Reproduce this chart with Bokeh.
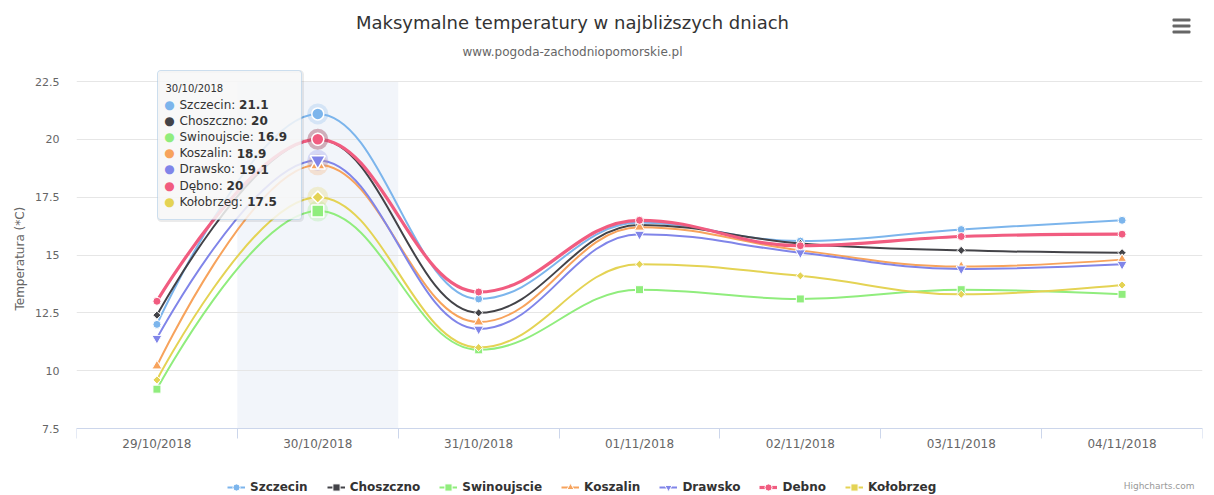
import math
from bokeh.plotting import figure
from bokeh.models import (Range1d, FixedTicker, NumeralTickFormatter, Label, Title,
                          BoxAnnotation, Legend, LegendItem, ColumnDataSource)
from bokeh.embed import file_html
from bokeh.resources import INLINE

# ---------------- data ----------------
dates = ["29/10/2018", "30/10/2018", "31/10/2018", "01/11/2018",
         "02/11/2018", "03/11/2018", "04/11/2018"]
legend_names = ["Szczecin", "Choszczno", "Swinoujscie", "Koszalin",
                "Drawsko", "Debno", "Kołobrzeg"]
tooltip_names = ["Szczecin", "Choszczno", "Swinoujscie", "Koszalin",
                 "Drawsko", "Dębno", "Kołobrzeg"]
szczecin = [12.0, 21.1, 13.1, 16.4, 15.6, 16.1, 16.5]
choszczno = [12.4, 20.0, 12.5, 16.3, 15.5, 15.2, 15.1]
swinoujscie = [9.2, 16.9, 10.9, 13.5, 13.1, 13.5, 13.3]
koszalin = [10.2, 18.9, 12.1, 16.2, 15.2, 14.5, 14.8]
drawsko = [11.4, 19.1, 11.8, 15.9, 15.1, 14.4, 14.6]
debno = [13.0, 20.0, 13.4, 16.5, 15.4, 15.8, 15.9]
kolobrzeg = [9.6, 17.5, 11.0, 14.6, 14.1, 13.3, 13.7]
series_values = [szczecin, choszczno, swinoujscie, koszalin, drawsko, debno, kolobrzeg]
y_ticks = [7.5, 10, 12.5, 15, 17.5, 20, 22.5]
title_text = "Maksymalne temperatury w najbliższych dniach"
subtitle_text = "www.pogoda-zachodniopomorskie.pl"
y_title = "Temperatura (*C)"
credits_text = "Highcharts.com"
hover_index = 1

# ---------------- style ----------------
colors = ["#7cb5ec", "#434348", "#90ed7d", "#f7a35c", "#8085e9", "#f15c80", "#e4d354"]
marker_kind = ["circle", "diamond", "square", "triangle", "inverted_triangle", "circle", "diamond"]
FONT = "DejaVu Sans"
W, H = 1214, 495
FL, FR = 76, 1202
AXIS_Y, GRID_TOP = 428, 81          # pixel rows of the x axis line and top gridline
PX = (AXIS_Y - GRID_TOP) / (y_ticks[-1] - y_ticks[0])   # pixels per degree
FB = H                               # the plotting frame runs to the bottom edge


def marker_spec(kind, hover=False):
    k = 1.5 if hover else 1.0
    if kind == "circle":
        return dict(marker="circle", size=8 * k, angle=0)
    if kind == "square":
        return dict(marker="square", size=8 * k, angle=0)
    if kind == "diamond":
        return dict(marker="square", size=5.7 * k, angle=math.pi / 4)
    if kind == "triangle":
        return dict(marker="triangle", size=10 * k, angle=0)
    return dict(marker="inverted_triangle", size=10 * k, angle=0)


def spline(xs, ys, smoothing=1.5):
    n = len(xs)
    lc = [None] * n
    rc = [None] * n
    d = smoothing + 1
    for i in range(1, n - 1):
        px, py = xs[i], ys[i]
        lx, ly = xs[i - 1], ys[i - 1]
        nx, ny = xs[i + 1], ys[i + 1]
        lcx = (smoothing * px + lx) / d
        lcy = (smoothing * py + ly) / d
        rcx = (smoothing * px + nx) / d
        rcy = (smoothing * py + ny) / d
        if rcx != lcx:
            corr = ((rcy - lcy) * (rcx - px)) / (rcx - lcx) + py - rcy
            lcy += corr
            rcy += corr
        if lcy > ly and lcy > py:
            lcy = max(ly, py)
            rcy = 2 * py - lcy
        elif lcy < ly and lcy < py:
            lcy = min(ly, py)
            rcy = 2 * py - lcy
        if rcy > ny and rcy > py:
            rcy = max(ny, py)
            lcy = 2 * py - rcy
        elif rcy < ny and rcy < py:
            rcy = min(ny, py)
            lcy = 2 * py - rcy
        lc[i] = (lcx, lcy)
        rc[i] = (rcx, rcy)
    out = dict(x0=[], y0=[], x1=[], y1=[], cx0=[], cy0=[], cx1=[], cy1=[])
    for i in range(1, n):
        s = (xs[i - 1], ys[i - 1])
        e = (xs[i], ys[i])
        c0 = rc[i - 1] or s
        c1 = lc[i] or e
        out["x0"].append(s[0]); out["y0"].append(s[1])
        out["x1"].append(e[0]); out["y1"].append(e[1])
        out["cx0"].append(c0[0]); out["cy0"].append(c0[1])
        out["cx1"].append(c1[0]); out["cy1"].append(c1[1])
    return out


p = figure(width=W, height=H, output_backend="svg", toolbar_location=None,
           x_axis_location="above",
           x_range=Range1d(-0.5, len(dates) - 0.5),
           y_range=Range1d(y_ticks[0] - (FB - AXIS_Y) / PX, y_ticks[-1] + GRID_TOP / PX),
           min_border_left=FL, min_border_right=W - FR,
           min_border_top=0, min_border_bottom=0)
p.outline_line_color = None
p.background_fill_color = "white"
p.border_fill_color = "white"

xs = list(range(len(dates)))

# x axis: drawn on the 7.5 line; labels pushed below the line
xa = p.xaxis[0]
xa.fixed_location = y_ticks[0]
xa.ticker = FixedTicker(ticks=xs, minor_ticks=[i - 0.5 for i in range(len(dates) + 1)])
xa.major_label_overrides = {i: d for i, d in enumerate(dates)}
xa.major_tick_line_color = None
xa.major_tick_out = 0
xa.major_tick_in = 0
xa.minor_tick_line_color = "#ccd6eb"
xa.minor_tick_in = 10
xa.minor_tick_out = 0
xa.axis_line_color = "#ccd6eb"
xa.major_label_text_font = FONT
xa.major_label_text_font_size = "12px"
xa.major_label_text_color = "#666666"
xa.major_label_standoff = -22

# y axis
ya = p.yaxis[0]
ya.ticker = FixedTicker(ticks=y_ticks)
ya.formatter = NumeralTickFormatter(format="0.[0]")
ya.major_tick_line_color = None
ya.major_tick_out = 0
ya.major_tick_in = 0
ya.minor_tick_line_color = None
ya.axis_line_color = None
ya.major_label_text_font = FONT
ya.major_label_text_font_size = "11px"
ya.major_label_text_color = "#666666"
ya.major_label_standoff = 17

p.add_layout(Title(text=y_title, align="left", offset=FB - 310, standoff=12,
                   text_font=FONT, text_font_size="12px", text_color="#666666",
                   text_font_style="normal"), "left")

p.xgrid.visible = False
p.ygrid.ticker = FixedTicker(ticks=y_ticks)
p.ygrid.grid_line_color = "#e6e6e6"

# hover band
p.quad(left=[hover_index - 0.5], right=[hover_index + 0.5],
       bottom=[y_ticks[0]], top=[y_ticks[-1]],
       fill_color="#ccd6eb", fill_alpha=0.25, line_color=None, level="underlay")

order = [0, 1, 2, 3, 4, 6, 5]
line_r = {}
mark_r = {}
for s in order:
    vals = series_values[s]
    src = ColumnDataSource(spline(xs, vals))
    lw = 3.2 if s == 5 else 2
    line_r[s] = p.bezier(x0="x0", y0="y0", x1="x1", y1="y1", cx0="cx0", cy0="cy0",
                         cx1="cx1", cy1="cy1", source=src, line_color=colors[s],
                         line_width=lw)
    mx = [x for x in xs if x != hover_index]
    my = [vals[x] for x in mx]
    mark_r[s] = p.scatter(x=mx, y=my, fill_color=colors[s], line_color="white",
                          line_width=1, **marker_spec(marker_kind[s]))

for s in order:
    vals = series_values[s]
    p.scatter(x=[hover_index], y=[vals[hover_index]], marker="circle", size=21,
              fill_color=colors[s], fill_alpha=0.25, line_color=None)
for s in order:
    vals = series_values[s]
    p.scatter(x=[hover_index], y=[vals[hover_index]], fill_color=colors[s],
              line_color="white", line_width=1.5, **marker_spec(marker_kind[s], True))

# legend at the bottom row
items = [LegendItem(label=name, renderers=[line_r[s], mark_r[s]])
         for s, name in enumerate(legend_names)]
legend = Legend(items=items, orientation="horizontal", location=(151, -1),
                padding=0, margin=0, spacing=19, glyph_width=18, glyph_height=18,
                label_height=18, label_standoff=5, border_line_alpha=0,
                background_fill_alpha=0, label_text_font=FONT,
                label_text_font_size="12px", label_text_font_style="bold",
                label_text_color="#333333")
p.add_layout(legend)


def sx(cx):
    return cx - FL


def sy(cy):
    return FB - cy


def label(cx, cy, text, size, color, align="left", style="normal"):
    p.add_layout(Label(x=sx(cx), y=sy(cy), x_units="screen", y_units="screen",
                       text=text, text_font=FONT, text_font_size=size,
                       text_color=color, text_align=align, text_baseline="middle",
                       text_font_style=style))


label(572, 22, title_text, "18px", "#333333", "center")
label(572, 51, subtitle_text, "12px", "#666666", "center")
label(1194, 485, credits_text, "9px", "#999999", "right")

# menu icon
for cy in (19.5, 25.5, 31.5):
    p.add_layout(BoxAnnotation(left=sx(1172), right=sx(1190), top=sy(cy - 1.5),
                               bottom=sy(cy + 1.5), left_units="screen",
                               right_units="screen", top_units="screen",
                               bottom_units="screen", fill_color="#666666",
                               fill_alpha=1, line_color=None, border_radius=1))

# tooltip
TL, TR, TT, TBm = 157, 301, 70, 219
p.add_layout(BoxAnnotation(left=sx(TL + 1), right=sx(TR + 1), top=sy(TT + 1), bottom=sy(TBm + 1),
                           left_units="screen", right_units="screen", top_units="screen",
                           bottom_units="screen", fill_alpha=0, line_color="black",
                           line_alpha=0.08, line_width=3, border_radius=3))
p.add_layout(BoxAnnotation(left=sx(TL), right=sx(TR), top=sy(TT), bottom=sy(TBm),
                           left_units="screen", right_units="screen", top_units="screen",
                           bottom_units="screen", fill_color="#f7f7f7", fill_alpha=0.85,
                           line_color=colors[0], line_width=1, border_radius=3))

W_EM = {' ': .318, ':': .337, 'S': .635, 'z': .525, 'c': .55, 'e': .615, 'i': .278,
        'n': .634, 'C': .698, 'h': .634, 'o': .612, 's': .521, 'w': .818, 'u': .634,
        'j': .278, 'K': .656, 'a': .613, 'l': .278, 'D': .77, 'r': .411, 'k': .579,
        'ę': .615, 'b': .635, 'ł': .29, 'g': .635, 'p': .635, 'd': .635, 'y': .592}


def text_w(t, size):
    return sum(W_EM.get(ch, .6) for ch in t) * size


label(165, 88, dates[hover_index], "10px", "#333333")
for i, name in enumerate(tooltip_names):
    cy = 104 + 16.2 * i
    v = series_values[i][hover_index]
    label(169, cy, "●", "12px", colors[i], "center")
    label(179, cy, name + ":", "12px", "#333333")
    label(179 + text_w(name + ": ", 12), cy, f"{v:g}", "12px", "#333333", style="bold")

open("out.html", "w").write(file_html(p, INLINE))
